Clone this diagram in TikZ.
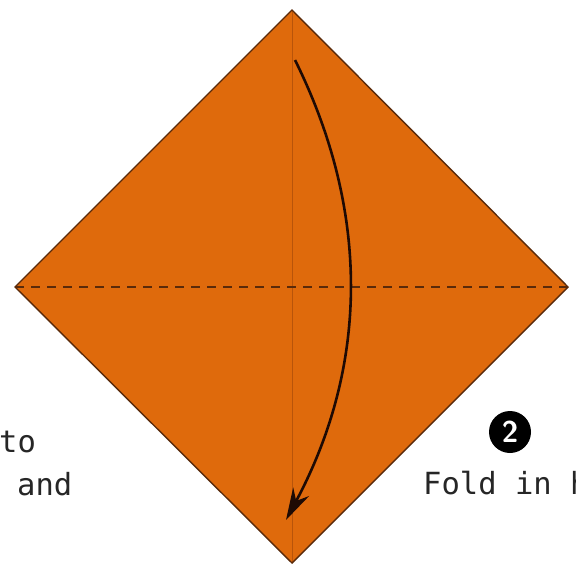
\documentclass[tikz,border=0pt]{standalone}
\usepackage{fontspec}
\newfontfamily\stepfont{DejaVu Sans Mono}
\usetikzlibrary{calc,arrows.meta,positioning}
\definecolor{paperc}{HTML}{DF6A0C}
\definecolor{edgec}{HTML}{5A2A0A}
\definecolor{creasec}{HTML}{B8540A}
\definecolor{arrc}{HTML}{1E0A04}
\tikzset{
  ar/.style={-{Stealth[length=32pt,width=18pt]},line width=2.6pt,arrc},
  lbl/.style={font=\stepfont\fontsize{30.5}{36}\selectfont,text=black!85,inner sep=0pt,anchor=base west},
  num/.style={circle,fill=black,text=white,minimum size=42pt,inner sep=0pt,font=\sffamily\bfseries\fontsize{30}{30}\selectfont}
}
\begin{document}
\begin{tikzpicture}[x=1pt,y=-1pt]
\clip (0,0) rectangle (576,568);
\fill[white] (0,0) rectangle (576,568);
\coordinate (top) at (292,10);
\coordinate (lft) at (15,287);
\coordinate (rgt) at (568,287);
\coordinate (bot) at (292,563);
\fill[paperc] (top)--(rgt)--(bot)--(lft)--cycle;
\draw[creasec,line width=1pt] (top)--(bot);
\draw[edgec,line width=1.6pt,dash pattern=on 9pt off 7pt] (lft)--(rgt);
\draw[edgec,line width=1.4pt,line join=miter] (top)--(rgt)--(bot)--(lft)--cycle;
\coordinate (as) at (295,60);
\coordinate (ae) at (286,520);
\draw[ar] (as) .. controls (371,213) and (368,367) .. (ae);
\node[lbl] (t1) at (-1,452) {to};
\node[lbl] (t2) at (17,495) {and};
\node[lbl] (t3) at (423,494) {Fold in half};
\node[num] (n2) at (510,432) {2};
\end{tikzpicture}
\end{document}
